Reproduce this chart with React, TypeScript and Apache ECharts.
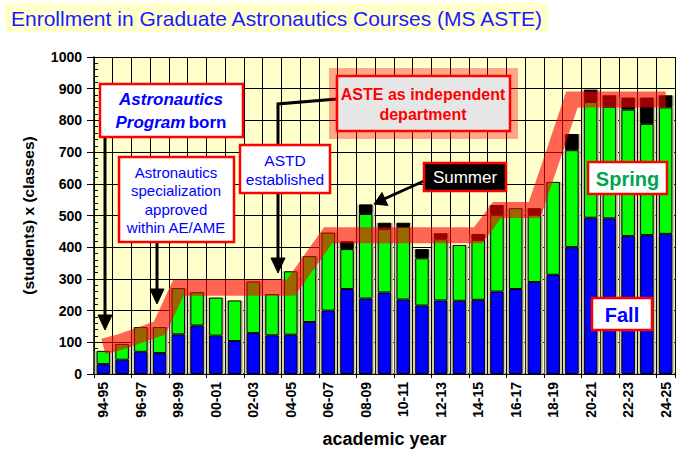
import React, { useEffect, useRef } from 'react';
import * as echarts from 'echarts';

const categories = ['94-95','95-96','96-97','97-98','98-99','99-00','00-01','01-02','02-03','03-04','04-05','05-06','06-07','07-08','08-09','09-10','10-11','11-12','12-13','13-14','14-15','15-16','16-17','17-18','18-19','19-20','20-21','21-22','22-23','23-24','24-25'];
const fall = [31, 45, 70, 66, 125, 153, 121, 104, 129, 122, 124, 164, 200, 268, 238, 257, 235, 216, 232, 231, 234, 260, 268, 290, 313, 400, 493, 491, 435, 438, 442];
const spring = [42, 50, 78, 82, 146, 105, 120, 128, 163, 130, 200, 208, 246, 126, 267, 200, 229, 149, 193, 176, 189, 241, 255, 212, 293, 306, 365, 352, 399, 351, 399];
const summer = [0, 0, 0, 0, 0, 0, 0, 0, 0, 0, 0, 0, 0, 25, 30, 20, 13, 29, 19, 0, 19, 32, 0, 21, 0, 51, 39, 36, 38, 83, 38];
const programLevel = [87, 103, 124, 145, 272, 272, 272, 272, 272, 272, 272, 355, 438, 438, 438, 438, 438, 438, 438, 438, 438, 517, 517, 517, 690, 866, 866, 866, 866, 866, 866];

const F = '"Liberation Sans", Arial, sans-serif';
const Z = 100;

function box(x: number, y: number, w: number, h: number, fill = '#ffffff') {
  return { type: 'rect', z: Z, shape: { x, y, width: w, height: h }, style: { fill, stroke: '#ff0000', lineWidth: 2.5 } };
}
function txt(x: number, y: number, text: string, font: any) {
  return {
    type: 'text', z: Z + 1, x, y,
    style: { text, align: 'center', verticalAlign: 'middle', fontFamily: F, ...font },
  };
}
function arrowLine(points: number[][], head: number[][]) {
  return [
    { type: 'polyline', z: Z, shape: { points }, style: { stroke: '#000', lineWidth: 3, fill: null } },
    { type: 'polygon', z: Z, shape: { points: head }, style: { fill: '#000', stroke: '#000', lineWidth: 1 } },
  ];
}

export default function App() {
  const ref = useRef<HTMLDivElement>(null);
  useEffect(() => {
    const chart = echarts.init(ref.current!, null, { renderer: 'svg' });
    const totals = categories.map((_, i) => fall[i] + spring[i] + summer[i]);
    const axisFont = { fontFamily: F, fontWeight: 'bold', color: '#000' };
    const option: any = {
      animation: false,
      backgroundColor: '#ffffff',
      grid: { left: 94, right: 4, top: 57, bottom: 77, backgroundColor: '#ffffcc', show: true, borderWidth: 0, outerBoundsMode: 'none', containLabel: false },
      xAxis: [
        {
          type: 'category', data: categories,
          name: 'academic year', nameLocation: 'middle', nameGap: 56,
          nameTextStyle: { ...axisFont, fontSize: 18 },
          axisLine: { lineStyle: { color: '#000', width: 1.5 } },
          axisTick: { show: true, length: 4, lineStyle: { color: '#000' } },
          axisLabel: { ...axisFont, fontSize: 14, rotate: 90, interval: 1, margin: 8 },
          splitLine: { show: true, interval: 0, lineStyle: { color: '#000', width: 1 } },
        },
        { type: 'category', data: categories, show: false },
      ],
      yAxis: [
        {
          type: 'value', min: 0, max: 1000, interval: 100,
          name: '(students) x (classes)', nameLocation: 'middle', nameGap: 58, nameRotate: 90,
          nameTextStyle: { ...axisFont, fontSize: 15.5 },
          axisLine: { show: true, lineStyle: { color: '#000', width: 1.5 } },
          axisTick: { show: true, length: 7, lineStyle: { color: '#000' } },
          axisLabel: { ...axisFont, fontSize: 14, margin: 12, formatter: (v: number) => String(v) },
          splitLine: { show: true, lineStyle: { color: '#000', width: 1 } },
        },
        {
          type: 'value', min: 0, max: 1000, interval: 100, position: 'left',
          axisLine: { show: false }, axisLabel: { show: false }, splitLine: { show: false },
          axisTick: { show: false, inside: true },
          minorTick: { show: true, splitNumber: 5, length: 4, lineStyle: { color: '#000' } },
        },
      ],
      series: [
        {
          name: 'gap', type: 'bar', xAxisIndex: 1, data: totals, barWidth: '92%', silent: true, z: 1,
          itemStyle: { color: '#cfcaa6' },
        },
        {
          name: 'Fall', type: 'bar', stack: 'enroll', data: fall, barWidth: '72%', z: 2,
          itemStyle: { color: '#0000ff', borderColor: '#000', borderWidth: 1 },
        },
        {
          name: 'Spring', type: 'bar', stack: 'enroll', data: spring, z: 2,
          itemStyle: { color: '#00ff00', borderColor: '#000', borderWidth: 1 },
        },
        {
          name: 'Summer', type: 'bar', stack: 'enroll', data: summer.map(v => (v === 0 ? null : v)), z: 2,
          itemStyle: { color: '#000000', borderColor: '#000', borderWidth: 1 },
        },
        {
          name: 'Program', type: 'line', data: programLevel, symbol: 'none', z: 4, silent: true,
          lineStyle: { color: 'rgba(255,0,0,0.6)', width: 16, join: 'miter', cap: 'butt' },
        },
      ],
      graphic: [
        { type: 'rect', z: Z, shape: { x: 5, y: 3, width: 543, height: 29 }, style: { fill: '#ffffcc' } },
        { type: 'text', z: Z + 1, x: 11, y: 18, style: { text: 'Enrollment in Graduate Astronautics Courses (MS ASTE)', fontFamily: F, fontSize: 21, fill: '#1a1aff', verticalAlign: 'middle' } },
        ...arrowLine([[105, 138], [105, 318]], [[98, 315], [105, 330], [112, 315]]),
        ...arrowLine([[157, 242], [157, 292]], [[150, 289], [157, 304], [164, 289]]),
        ...arrowLine([[337, 99], [278, 104], [278, 260]], [[271, 258], [278, 273], [285, 258]]),
        ...arrowLine([[424, 181], [384, 199]], [[387.8, 205.4], [374, 204], [382, 192.6]]),
        box(100, 84, 143, 53),
        {
          type: 'text', z: Z + 1, x: 171, y: 111,
          style: {
            text: '{bi|Astronautics}\n{bi|Program} {b|born}', align: 'center', verticalAlign: 'middle',
            rich: {
              bi: { fontFamily: F, fontSize: 17, fontWeight: 'bold', fontStyle: 'italic', fill: '#0000ff', lineHeight: 23 },
              b: { fontFamily: F, fontSize: 17, fontWeight: 'bold', fill: '#0000ff', lineHeight: 23 },
            },
          },
        },
        box(119, 157, 115, 85),
        txt(176, 200, 'Astronautics\nspecialization\napproved\nwithin AE/AME', { fontSize: 15, lineHeight: 18.3, fill: '#0000ff' }),
        box(240, 145, 90, 48),
        txt(285, 170, 'ASTD\nestablished', { fontSize: 15.5, lineHeight: 19.5, fill: '#0000ff' }),
        { type: 'rect', z: Z, shape: { x: 333, y: 72, width: 181, height: 63 }, style: { fill: null, stroke: 'rgba(255,0,0,0.35)', lineWidth: 8 } },
        box(337, 76, 173, 55, '#e6e6e6'),
        txt(423, 104, 'ASTE as independent\ndepartment', { fontSize: 16, fontWeight: 'bold', lineHeight: 20, fill: '#ff0000' }),
        box(424, 163, 82, 28, '#000000'),
        txt(465, 177.5, 'Summer', { fontSize: 17, fill: '#ffffff' }),
        box(588, 162, 79, 32),
        txt(627.5, 178.5, 'Spring', { fontSize: 20, fontWeight: 'bold', fill: '#00a550' }),
        box(592, 298, 60, 32),
        txt(622, 314.5, 'Fall', { fontSize: 20, fontWeight: 'bold', fill: '#0000ff' }),
      ],
    };
    chart.setOption(option);
    return () => chart.dispose();
  }, []);
  return <div ref={ref} style={{ position: 'fixed', left: 0, top: 0, width: 679, height: 451 }} />;
}
